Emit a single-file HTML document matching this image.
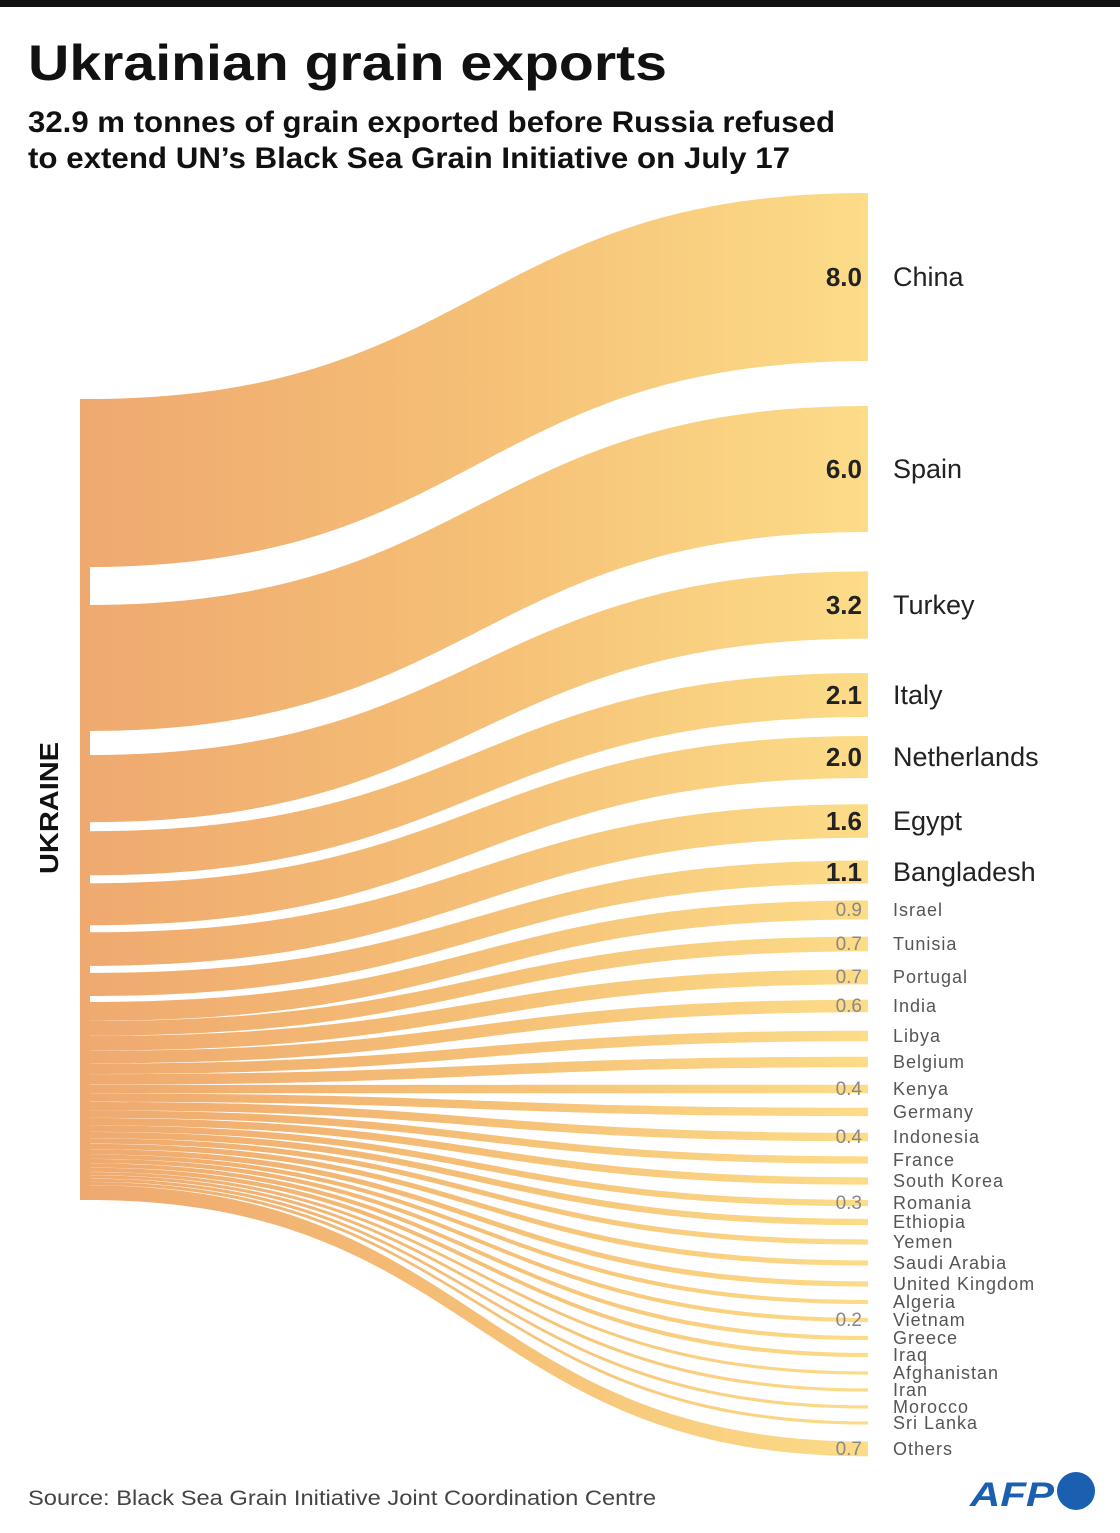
<!DOCTYPE html>
<html><head><meta charset="utf-8"><style>
html,body{margin:0;padding:0;background:#fff;}
svg{display:block;font-family:"Liberation Sans",sans-serif;}
</style></head><body>
<svg id="s" width="1120" height="1533" viewBox="0 0 1120 1533" xmlns="http://www.w3.org/2000/svg">
<defs><linearGradient id="g" x1="80" y1="0" x2="868" y2="0" gradientUnits="userSpaceOnUse">
<stop offset="0" stop-color="#efa96f"/><stop offset="0.5" stop-color="#f5bf76"/><stop offset="1" stop-color="#fcdc88"/></linearGradient></defs>
<rect x="0" y="0" width="1120" height="7" fill="#111"/>
<text x="28" y="80" font-size="50" font-weight="bold" fill="#111" textLength="639" lengthAdjust="spacingAndGlyphs">Ukrainian grain exports</text>
<text x="28" y="132" font-size="30" font-weight="bold" fill="#111" textLength="807" lengthAdjust="spacingAndGlyphs">32.9 m tonnes of grain exported before Russia refused</text>
<text x="28" y="168" font-size="30" font-weight="bold" fill="#111" textLength="762" lengthAdjust="spacingAndGlyphs">to extend UN’s Black Sea Grain Initiative on July 17</text>
<rect x="80" y="399" width="10" height="801" fill="#efa96f"/>
<g id="flows"></g>
<g id="labels"></g>
<text transform="translate(58,808) rotate(-90)" text-anchor="middle" font-size="26" font-weight="bold" fill="#111" textLength="132" lengthAdjust="spacingAndGlyphs">UKRAINE</text>
<text x="28" y="1505" font-size="21" fill="#444" textLength="628" lengthAdjust="spacingAndGlyphs">Source: Black Sea Grain Initiative Joint Coordination Centre</text>
<text x="970" y="1506" font-size="34" font-weight="bold" font-style="italic" fill="#1a5fb0" textLength="84" lengthAdjust="spacingAndGlyphs">AFP</text>
<circle cx="1076" cy="1491" r="19" fill="#1a5fb0"/>
</svg>
<script>
var d=[["China",8,277,1],["Spain",6,469,1],["Turkey",3.2,605,1],["Italy",2.1,695,1],["Netherlands",2,757,1],["Egypt",1.6,821,1],["Bangladesh",1.1,872,1],
["Israel",.9,910,"0.9"],["Tunisia",.7,944,"0.7"],["Portugal",.7,977,"0.7"],["India",.6,1006,"0.6"],["Libya",.5,1036,""],["Belgium",.5,1062,""],["Kenya",.4,1089,"0.4"],["Germany",.4,1112,""],["Indonesia",.4,1137,"0.4"],["France",.35,1160,""],["South Korea",.35,1181,""],["Romania",.3,1203,"0.3"],["Ethiopia",.3,1222,""],["Yemen",.25,1242,""],["Saudi Arabia",.25,1263,""],["United Kingdom",.25,1284,""],["Algeria",.2,1302,""],["Vietnam",.2,1320,"0.2"],["Greece",.2,1338,""],["Iraq",.2,1355,""],["Afghanistan",.15,1373,""],["Iran",.15,1390,""],["Morocco",.15,1407,""],["Sri Lanka",.15,1423,""],["Others",.7,1449,"0.7"]];
var sc=21,ns="http://www.w3.org/2000/svg";
var gaps=[38,24,9,8,7,7,6];var n=d.length;var tot=0;d.forEach(function(e){tot+=e[1]*sc;});
var fixed=0;gaps.forEach(function(g){fixed+=g;});
var rest=(801-tot-fixed)/(n-1-gaps.length);
var y=399,F=document.getElementById("flows"),L=document.getElementById("labels");
var big=["8.0","6.0","3.2","2.1","2.0","1.6","1.1"];
d.forEach(function(e,i){
 var h=e[1]*sc,y0=y,y1=y+h;y=y1+(i<gaps.length?gaps[i]:rest);
 var r0=e[2]-h/2,r1=e[2]+h/2,x0=88,x1=868,m=(x0+x1)/2;
 var p=document.createElementNS(ns,"path");
 p.setAttribute("d","M"+x0+","+y0+" C"+m+","+y0+" "+m+","+r0+" "+x1+","+r0+" L"+x1+","+r1+" C"+m+","+r1+" "+m+","+y1+" "+x0+","+y1+" Z");
 p.setAttribute("fill","url(#g)");F.appendChild(p);
 var isBig=i<7;
 var t=document.createElementNS(ns,"text");t.setAttribute("x",893);
 t.setAttribute("y",e[2]+(isBig?9:6));t.setAttribute("font-size",isBig?27:18);
 t.setAttribute("fill",isBig?"#222":"#555");if(!isBig)t.setAttribute("letter-spacing","1");
 t.textContent=e[0];L.appendChild(t);
 var v=isBig?big[i]:e[3];
 if(v){var u=document.createElementNS(ns,"text");u.setAttribute("x",862);u.setAttribute("text-anchor","end");
 u.setAttribute("y",e[2]+(isBig?9:6));u.setAttribute("font-size",isBig?26:19);
 u.setAttribute("font-weight",isBig?"bold":"normal");u.setAttribute("fill",isBig?"#222":"#888");
 u.textContent=v;L.appendChild(u);}
});
</script>
</body></html>
